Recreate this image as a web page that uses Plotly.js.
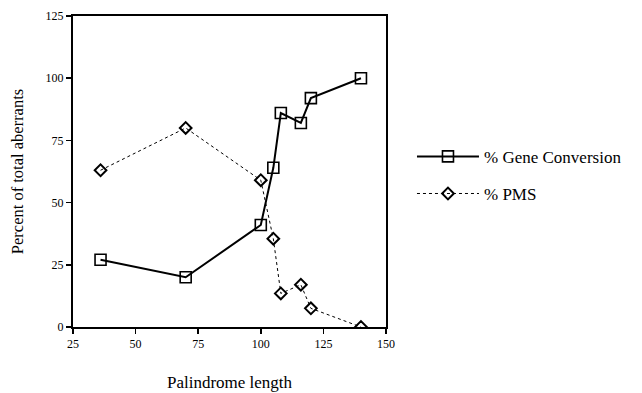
<!DOCTYPE html>
<html>
<head>
<meta charset="utf-8">
<script src="https://cdn.plot.ly/plotly-3.0.1.min.js"></script>
<style>html,body{margin:0;padding:0;background:#fff;}#chart{width:642px;height:393px;}</style>
</head>
<body>
<div id="chart"></div>
<script>
var palindromeLength = [36, 70, 100, 105, 108, 116, 120, 140];
var geneConversion = [27, 20, 41, 64, 86, 82, 92, 100];
var pms = [63, 80, 59, 35.5, 13.5, 17, 7.5, 0];
var xTicks = [25, 50, 75, 100, 125, 150];
var yTicks = [0, 25, 50, 75, 100, 125];

var serif = "Liberation Serif";

var traces = [
  {
    x: palindromeLength, y: geneConversion, name: "% Gene Conversion",
    type: "scatter", mode: "lines+markers", legendgroup: "a",
    line: {color: "#000", width: 2},
    marker: {symbol: "square-open", size: 11, color: "#000", line: {width: 1.6, color: "#000"}}
  },
  {
    x: palindromeLength, y: pms, name: "% PMS",
    type: "scatter", mode: "lines+markers", legendgroup: "b",
    line: {color: "#000", width: 1, dash: "dot"},
    marker: {symbol: "diamond-open", size: 9, color: "#000", line: {width: 2, color: "#000"}}
  }
];

var layout = {
  width: 642, height: 393,
  margin: {l: 73, r: 256, t: 16, b: 66},
  paper_bgcolor: "#fff", plot_bgcolor: "#fff",
  font: {family: serif, color: "#000", size: 12},
  showlegend: true,
  legend: {
    x: 1.083, y: 0.605, xanchor: "left", yanchor: "top",
    font: {family: serif, size: 17, color: "#000"},
    traceorder: "grouped", tracegroupgap: 12, itemwidth: 62,
    bgcolor: "rgba(0,0,0,0)", borderwidth: 0
  },
  xaxis: {
    range: [25, 150], tickvals: xTicks, ticktext: xTicks.map(String),
    showgrid: false, zeroline: false,
    showline: true, linecolor: "#000", linewidth: 2, mirror: true,
    ticks: "outside", ticklen: 5, tickwidth: 1.5, tickcolor: "#000",
    tickfont: {family: serif, size: 12, color: "#000"},
    title: {text: "Palindrome length", font: {family: serif, size: 17, color: "#000"}, standoff: 26}
  },
  yaxis: {
    range: [0, 125], tickvals: yTicks, ticktext: yTicks.map(String),
    showgrid: false, zeroline: false,
    showline: true, linecolor: "#000", linewidth: 2, mirror: true,
    ticks: "outside", ticklen: 5, tickwidth: 1.5, tickcolor: "#000",
    tickfont: {family: serif, size: 12, color: "#000"},
    title: {text: "Percent of total aberrants", font: {family: serif, size: 16.5, color: "#000"}, standoff: 18}
  }
};

Plotly.newPlot("chart", traces, layout, {displayModeBar: false, staticPlot: true});
</script>
</body>
</html>
